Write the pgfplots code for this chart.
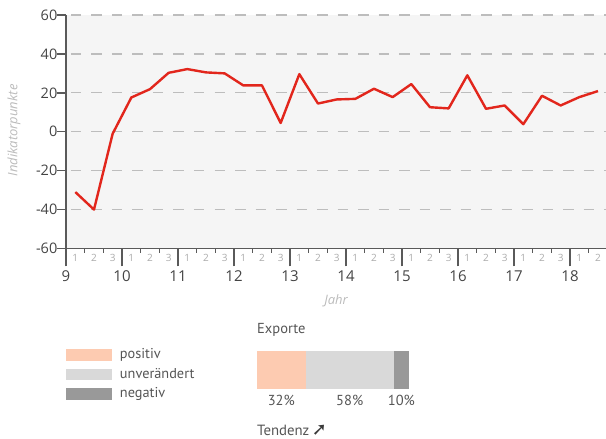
\documentclass[border=0pt]{standalone}
\usepackage{fontspec}
\setmainfont{Open Sans}
\newfontfamily\ptsans{PT Sans}
\newfontfamily\dejavu{DejaVu Sans}
\usepackage{pgfplots}
\pgfplotsset{compat=1.18}
\definecolor{linered}{RGB}{226,38,28}
\definecolor{bggray}{HTML}{F5F5F5}
\definecolor{gridgray}{HTML}{BDBDBD}
\definecolor{axisgray}{HTML}{5A5A5A}
\definecolor{minorgray}{HTML}{ABABAB}
\definecolor{labelgray}{HTML}{444444}
\definecolor{ylabgray}{HTML}{BBBBBB}
\definecolor{textgray}{HTML}{555555}
\definecolor{arrowgray}{HTML}{3A3A3A}
\definecolor{peach}{HTML}{FDCBB1}
\definecolor{lgray}{HTML}{D9D9D9}
\definecolor{dgray}{HTML}{999999}
\pgfplotsset{
  mylegend/.style={legend image code/.code={
    \fill[##1,draw=none] (0pt,-5.7pt) rectangle (46pt,5.7pt);
    \path[fill=none,draw=none] (0pt,-6pt) rectangle (54pt,6pt);}}
}
\begin{document}
\begin{tikzpicture}
\path[use as bounding box] (0,0) rectangle (606pt,439pt);

% main axis
\begin{axis}[
  at={(66pt,190.5pt)}, anchor=south west,
  scale only axis, width=540pt, height=233.5pt,
  xmin=9, xmax=18.643, ymin=-60, ymax=60,
  axis x line=bottom, axis y line=left,
  axis line style={-, draw=axisgray, line width=1.4pt},
  axis background/.style={fill=bggray},
  tick align=outside,
  xtick={9,10,11,12,13,14,15,16,17,18},
  minor xtick={9.3333,9.6667,10.3333,10.6667,11.3333,11.6667,12.3333,12.6667,13.3333,13.6667,14.3333,14.6667,15.3333,15.6667,16.3333,16.6667,17.3333,17.6667,18.3333},
  major tick length=18pt, minor tick length=4.5pt,
  xtick style={draw=axisgray, line width=1.4pt},
  minor tick style={draw=minorgray, line width=0.9pt},
  xticklabel style={font=\fontsize{15}{15}\selectfont, text=labelgray, anchor=center, yshift=-9.5pt},
  ytick={-60,-40,-20,0,20,40,60}, yticklabels={}, ytick style={draw=none},
  ymajorgrids,
  major grid style={draw=gridgray, line width=1.3pt, dash pattern=on 10.5pt off 10pt, dash phase=15.5pt},
  xlabel={Jahr}, ylabel={Indikatorpunkte},
  xlabel style={at={(axis description cs:0.5,-0.223)}, anchor=center, font=\itshape\fontsize{13}{13}\selectfont, text=ylabgray},
  ylabel style={at={(axis description cs:-0.0963,0.506)}, anchor=center, font=\itshape\fontsize{13}{13}\selectfont, text=ylabgray},
  /pgf/number format/assume math mode=true,
]
\addplot[linered, line width=2.4pt, line join=round] table {
x y
9.1667 -31
9.5 -40
9.8333 -1
10.1667 17.6
10.5 21.9
10.8333 30.3
11.1667 32.2
11.5 30.5
11.8333 30.0
12.1667 23.8
12.5 23.8
12.8333 4.5
13.1667 29.6
13.5 14.5
13.8333 16.6
14.1667 16.9
14.5 22.1
14.8333 17.8
15.1667 24.5
15.5 12.6
15.8333 12.0
16.1667 29.0
16.5 11.8
16.8333 13.5
17.1667 3.9
17.5 18.5
17.8333 13.5
18.1667 17.8
18.5 20.9
};
\end{axis}

% overlay axis: y tick labels and quarter labels
\begin{axis}[
  at={(66pt,190.5pt)}, anchor=south west,
  scale only axis, width=540pt, height=233.5pt,
  xmin=9, xmax=18.643, ymin=-60, ymax=60,
  axis line style={draw=none},
  tick align=outside, tick pos=left,
  major tick length=9pt,
  xtick={9.1667,9.5,9.8333,10.1667,10.5,10.8333,11.1667,11.5,11.8333,12.1667,12.5,12.8333,13.1667,13.5,13.8333,14.1667,14.5,14.8333,15.1667,15.5,15.8333,16.1667,16.5,16.8333,17.1667,17.5,17.8333,18.1667,18.5},
  xticklabels={1,2,3,1,2,3,1,2,3,1,2,3,1,2,3,1,2,3,1,2,3,1,2,3,1,2,3,1,2},
  xtick style={draw=none},
  xticklabel style={font=\fontsize{10}{10}\selectfont, text=minorgray, anchor=center, yshift=0pt},
  ytick={-60,-40,-20,0,20,40,60},
  yticklabels={-60,-40,-20,0,20,40,60},
  ytick style={draw=axisgray, line width=1.4pt},
  yticklabel style={font=\fontsize{14.5}{14.5}\selectfont, text=labelgray, inner sep=0pt, xshift=0.5pt},
]
\end{axis}

% stacked bar
\begin{axis}[
  at={(257pt,50pt)}, anchor=south west,
  scale only axis, width=152pt, height=38pt,
  xbar stacked, bar width=38pt,
  xmin=0, xmax=100, ymin=0.5, ymax=1.5,
  axis line style={draw=none}, ytick=\empty,
  xtick={16,61,95}, xticklabels={32\%,58\%,10\%},
  xtick style={draw=none}, tick pos=left,
  xticklabel style={font=\ptsans\fontsize{14.5}{14.5}\selectfont, text=textgray, anchor=center, yshift=-11.5pt},
  title={Exporte},
  title style={at={(axis description cs:0,1)}, anchor=base west, inner sep=0pt, yshift=11.7pt, font=\ptsans\fontsize{14.5}{14.5}\selectfont, text=textgray},
  legend style={at={(axis description cs:-1.2566,1.0526)}, anchor=north west, draw=none, fill=none, inner sep=0pt, outer sep=0pt, row sep=7.5pt, column sep=0pt, font=\ptsans\fontsize{14.3}{14.3}\selectfont, text=textgray, nodes={inner sep=0pt, text height=10pt, text depth=2pt}},
  legend cell align=left,
  clip=false,
]
\addplot[fill=peach, draw=none, mylegend] coordinates {(32,1)};
\addplot[fill=lgray, draw=none, mylegend] coordinates {(58,1)};
\addplot[fill=dgray, draw=none, mylegend] coordinates {(10,1)};
\legend{positiv, unverändert, negativ}
\node[anchor=base west, inner sep=0pt, yshift=-46.5pt, font=\ptsans\fontsize{14.8}{14.8}\selectfont, text=textgray] at (axis description cs:0,0) {Tendenz\,{\dejavu\fontsize{18}{18}\selectfont\color{arrowgray}\raisebox{-0.5pt}{➚}}};
\end{axis}
\end{tikzpicture}
\end{document}
